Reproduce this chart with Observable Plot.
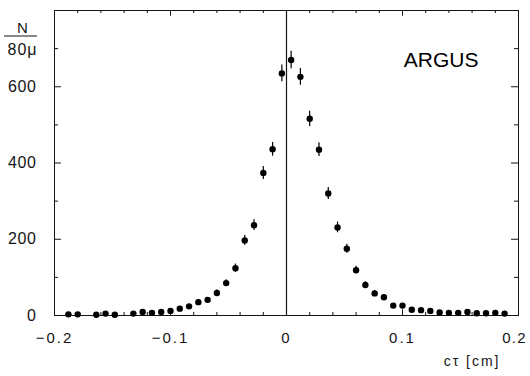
<!DOCTYPE html>
<html><head><meta charset="utf-8">
<script src="https://cdn.jsdelivr.net/npm/d3@7"></script>
<script src="https://cdn.jsdelivr.net/npm/@observablehq/plot@0.6"></script>
<style>
body{margin:0;background:#fff}
svg{display:block}
g[aria-label="x-axis tick label"] text{letter-spacing:2px}
g[aria-label="y-axis tick label"] text{letter-spacing:0.6px}
</style>
</head><body><div id="chart"></div>
<script>
// bin centres (cm), counts per 80 micron bin, read-off error half-lengths
const binCenters = [-0.188,-0.180,-0.164,-0.156,-0.148,-0.132,-0.124,-0.116,-0.108,-0.100,
  -0.092,-0.084,-0.076,-0.068,-0.060,-0.052,-0.044,-0.036,-0.028,-0.020,-0.012,-0.004,
  0.004,0.012,0.020,0.028,0.036,0.044,0.052,0.060,0.068,0.076,0.084,0.092,0.100,
  0.108,0.116,0.124,0.132,0.140,0.148,0.156,0.164,0.172,0.180,0.188];
const counts = [3,3,2,5,2,5,9,7,9,12,
  18,24,35,41,59,85,124,197,237,374,436,635,
  670,626,516,435,320,231,175,119,80,58,48,26,26,
  15,14,12,8,7,7,9,6,6,7,5];
const errors = [2,2,1.5,2.5,1.5,2.5,3,3,3,3.5,
  4,5,6,6.5,8,9,11,13,14,17,18,22,
  23,22,20,18,16,14,12,10,8.5,7.5,7,5,5,
  4,4,3.5,3,3,3,3,2.5,2.5,3,2];
const xTickValues = [-0.2,-0.1,0,0.1,0.2];
const yTickValues = [0,200,400,600];
const xMinorTicks = [-0.18,-0.16,-0.14,-0.12,-0.08,-0.06,-0.04,-0.02,0.02,0.04,0.06,0.08,0.12,0.14,0.16,0.18];
const yMinorTicks = [100,300,500,700];
const yLabelTop = "N";
const yLabelBottom = "80μ";
const xLabel = "cτ [cm]";
const expName = "ARGUS";

const data = binCenters.map((x, i) => ({x, n: counts[i], e: errors[i]}));
const ink = "#151515";

const chart = Plot.plot({
  width: 530, height: 376,
  marginLeft: 54, marginRight: 12, marginTop: 10, marginBottom: 61,
  x: {domain: [-0.2, 0.2], label: null},
  y: {domain: [0, 800], label: null},
  style: {fontFamily: "'Liberation Sans', Arial, sans-serif", color: ink, background: "#fff"},
  marks: [
    Plot.frame({stroke: ink, strokeWidth: 1}),
    Plot.ruleX([0], {stroke: ink, strokeWidth: 1.2}),
    Plot.ruleX(xMinorTicks, {y1: 0, y2: 8, stroke: ink}),
    Plot.ruleX(xMinorTicks, {y1: 800, y2: 792, stroke: ink}),
    Plot.ruleX(xTickValues, {y1: 0, y2: 15, stroke: ink}),
    Plot.ruleX(xTickValues, {y1: 800, y2: 785, stroke: ink}),
    Plot.ruleY(yMinorTicks, {x1: -0.2, x2: -0.1965, stroke: ink}),
    Plot.ruleY(yMinorTicks, {x1: 0.2, x2: 0.1965, stroke: ink}),
    Plot.ruleY(yTickValues, {x1: -0.2, x2: -0.194, stroke: ink}),
    Plot.ruleY(yTickValues, {x1: 0.2, x2: 0.194, stroke: ink}),
    Plot.axisX({ticks: xTickValues, tickSize: 0, tickPadding: 17, fontSize: 15, label: null,
      tickFormat: d => d === 0 ? "0" : d.toFixed(1).replace("-", "−")}),
    Plot.axisY({ticks: yTickValues, tickSize: 0, tickPadding: 18, fontSize: 16, label: null}),
    Plot.ruleX(data, {x: "x", y1: d => d.n - d.e, y2: d => d.n + d.e, stroke: "#000", strokeWidth: 1.2}),
    Plot.dot(data, {x: "x", y: "n", r: 3.2, fill: "#000"}),
    Plot.text([expName], {frameAnchor: "top-right", dx: -40, dy: 50, textAnchor: "end", lineAnchor: "middle", fontSize: 21, fill: "#000"}),
    Plot.text([xLabel], {frameAnchor: "bottom-right", dx: -18, dy: 46, textAnchor: "end", lineAnchor: "middle", fontSize: 14, fill: ink}),
    Plot.text([yLabelTop], {frameAnchor: "top-left", dx: -32, dy: 17.5, textAnchor: "middle", lineAnchor: "middle", fontSize: 15, fill: ink}),
    Plot.text([yLabelBottom], {frameAnchor: "top-left", dx: -32, dy: 39, textAnchor: "middle", lineAnchor: "middle", fontSize: 16, fill: ink})
  ]
});
d3.select(chart).append("line")
  .attr("x1", 4).attr("x2", 37).attr("y1", 36).attr("y2", 36)
  .attr("stroke", ink).attr("stroke-width", 1);
d3.select(chart).selectAll('g[aria-label="text"] text').each(function(){
  if (this.textContent === xLabel) this.style.letterSpacing = "2px";
  if (this.textContent === yLabelBottom) this.style.letterSpacing = "1px";
});
// keep the last x tick label inside the picture
d3.select(chart).selectAll('g[aria-label="x-axis tick label"] text').each(function(){
  if (this.textContent === "0.2") { this.style.letterSpacing = "1.2px"; this.setAttribute("dx", "-4"); }
});
document.getElementById("chart").appendChild(chart);
</script>
</body></html>
